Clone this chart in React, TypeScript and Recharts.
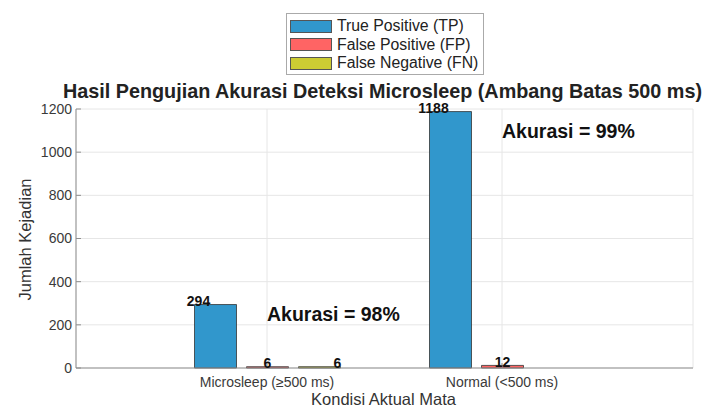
import React from 'react';
import { BarChart, Bar, XAxis, YAxis, CartesianGrid, LabelList, ReferenceDot } from 'recharts';

const categories = ['Microsleep (≥500 ms)', 'Normal (<500 ms)'];
const truePositive = [294, 1188];
const falsePositive = [6, 12];
const falseNegative = [6, 0];
const yTicks = [0, 200, 400, 600, 800, 1000, 1200];

const accuracyNotes = [
  { category: 'Microsleep (≥500 ms)', y: 250, text: 'Akurasi = 98%' },
  { category: 'Normal (<500 ms)', y: 1100, text: 'Akurasi = 99%' },
];

const series = [
  { key: 'tp', name: 'True Positive (TP)', color: '#3197cc', labelDx: -17 },
  { key: 'fp', name: 'False Positive (FP)', color: '#ff6464', labelDx: 0 },
  { key: 'fn', name: 'False Negative (FN)', color: '#cccc33', labelDx: 18 },
];

const data = categories.map((name, i) => ({
  name,
  tp: truePositive[i],
  fp: falsePositive[i],
  fn: falseNegative[i],
}));

const FONT = '"Liberation Sans", Arial, sans-serif';
const AXIS = '#8f8f8f';

const barLabel = (dx: number) => (props: any) => {
  const { x, y, width, value } = props;
  if (!value) return null;
  return (
    <text x={x + width / 2 + dx} y={y + 1.5} textAnchor="middle" fontSize={14} fontWeight="bold" fill="#111" fontFamily={FONT}>
      {value}
    </text>
  );
};

const noteLabel = (text: string) => (props: any) => {
  const { viewBox } = props;
  return (
    <text x={viewBox.x} y={viewBox.y} dominantBaseline="central" fontSize={19.5} fontWeight="bold" fill="#111" fontFamily={FONT}>
      {text}
    </text>
  );
};

export default function App() {
  return (
    <div style={{ position: 'absolute', left: 0, top: 0, width: 705, height: 408, background: '#fff', fontFamily: FONT }}>
      {/* legend */}
      <div style={{ position: 'absolute', left: 286, top: 13, width: 196, border: '1px solid #aaa', paddingTop: 3, paddingBottom: 1, background: '#fff' }}>
        {series.map((s) => (
          <div key={s.key} style={{ display: 'flex', alignItems: 'center', height: 18.5 }}>
            <div style={{ width: 42, height: 13, marginLeft: 3, background: s.color, border: '1px solid #555', boxSizing: 'border-box' }} />
            <span style={{ marginLeft: 5, fontSize: 15.8, color: '#222', whiteSpace: 'nowrap' }}>{s.name}</span>
          </div>
        ))}
      </div>
      {/* title */}
      <div style={{ position: 'absolute', left: 0, width: 765, top: 82, textAlign: 'center', fontSize: 19.8, lineHeight: '19.5px', fontWeight: 'bold', color: '#222', whiteSpace: 'nowrap' }}>
        Hasil Pengujian Akurasi Deteksi Microsleep (Ambang Batas 500 ms)
      </div>
      <div style={{ position: 'absolute', left: 0, top: 0 }}>
        <BarChart width={705} height={408} data={data} barSize={42} barGap={10} margin={{ top: 109, right: 12, bottom: 0, left: 0 }}>
          <CartesianGrid stroke="#e6e6e6" />
          <XAxis
            dataKey="name"
            height={40}
            padding={{ left: 73.5, right: 73.5 }}
            stroke={AXIS}
            tickSize={-5}
            tickMargin={14}
            tick={{ fill: '#3a3a3a', fontSize: 14, fontFamily: FONT }}
            label={{
              content: (p: any) => (
                <text x={p.viewBox.x + p.viewBox.width / 2 - 1} y={405} textAnchor="middle" fontSize={16.5} fill="#333" fontFamily={FONT}>
                  Kondisi Aktual Mata
                </text>
              ),
            }}
          />
          <XAxis xAxisId="top" dataKey="name" orientation="top" height={0} padding={{ left: 73.5, right: 73.5 }} stroke={AXIS} tickSize={-5} tick={false} />
          <YAxis
            width={76}
            domain={[0, 1200]}
            ticks={yTicks}
            stroke={AXIS}
            tickSize={-5}
            tickMargin={9}
            tick={{ fill: '#3a3a3a', fontSize: 14, fontFamily: FONT }}
            label={{
              content: (p: any) => (
                <text transform={`translate(31, ${p.viewBox.y + p.viewBox.height / 2 + 1}) rotate(-90)`} textAnchor="middle" fontSize={16.5} fill="#333" fontFamily={FONT}>
                  Jumlah Kejadian
                </text>
              ),
            }}
          />
          <YAxis yAxisId="right" orientation="right" width={0} domain={[0, 1200]} ticks={yTicks} stroke={AXIS} tickSize={-5} tick={false} />
          {series.map((s) => (
            <Bar key={s.key} dataKey={s.key} name={s.name} fill={s.color} stroke="#333" strokeWidth={0.8} isAnimationActive={false}>
              <LabelList dataKey={s.key} content={barLabel(s.labelDx)} />
            </Bar>
          ))}
          {accuracyNotes.map((n) => (
            <ReferenceDot key={n.category} x={n.category} y={n.y} r={0} fill="none" stroke="none" label={{ content: noteLabel(n.text) }} />
          ))}
        </BarChart>
      </div>
    </div>
  );
}
